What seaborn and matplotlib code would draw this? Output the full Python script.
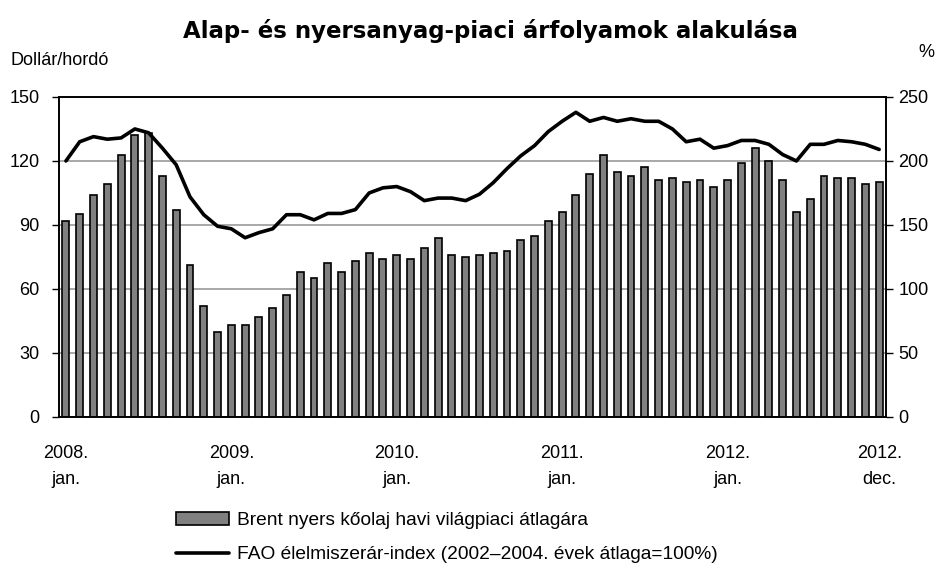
import numpy as np
import pandas as pd
import matplotlib
matplotlib.use("Agg")
import matplotlib.pyplot as plt
import seaborn as sns
from matplotlib.patches import Patch
from matplotlib.lines import Line2D
from matplotlib.ticker import FixedLocator

# Brent havi átlagár (dollár/hordó), 2008 jan. - 2012 dec.
brent = [92, 95, 104, 109, 123, 132, 133, 113, 97, 71, 52, 40,
         43, 43, 47, 51, 57, 68, 65, 72, 68, 73, 77, 74,
         76, 74, 79, 84, 76, 75, 76, 77, 78, 83, 85, 92,
         96, 104, 114, 123, 115, 113, 117, 111, 112, 110, 111, 108,
         111, 119, 126, 120, 111, 96, 102, 113, 112, 112, 109, 110]

# FAO élelmiszerár-index (%)
fao = [200, 215, 219, 217, 218, 225, 222, 210, 197, 172, 158, 149,
       147, 140, 144, 147, 158, 158, 154, 159, 159, 162, 175, 179,
       180, 176, 169, 171, 171, 169, 174, 183, 194, 204, 212, 223,
       231, 238, 231, 234, 231, 233, 231, 231, 225, 215, 217, 210,
       212, 216, 216, 213, 205, 200, 213, 213, 216, 215, 213, 209]

tick_pos = [0, 12, 24, 36, 48, 59]
tick_labels = ["2008.\njan.", "2009.\njan.", "2010.\njan.", "2011.\njan.", "2012.\njan.", "2012.\ndec."]

bar_label = "Brent nyers kőolaj havi világpiaci átlagára"
line_label = "FAO élelmiszerár-index (2002–2004. évek átlaga=100%)"

df = pd.DataFrame({"month": np.arange(len(brent)), "brent": brent, "fao": fao})

sns.set_theme(style="white")
plt.rcParams['font.family'] = ['Liberation Sans', 'DejaVu Sans']
plt.rcParams.update({"text.color": "black", "axes.labelcolor": "black",
                     "xtick.color": "black", "ytick.color": "black"})
FS = 13

fig = plt.figure(figsize=(9.4, 5.67), dpi=100)
ax = fig.add_axes([0.0628, 0.2646, 0.8798, 0.5644])

sns.barplot(data=df, x="month", y="brent", color="#808080", saturation=1,
            edgecolor="black", linewidth=1.2, width=0.5, ax=ax, zorder=2)
ax.set_ylim(0, 150)
ax.set_yticks(range(0, 151, 30))
ax.yaxis.grid(True, color="#999999", linewidth=1.2, zorder=0)
ax.set_axisbelow(True)
ax.set_xlim(-0.5, len(brent) - 0.5)
ax.set_xticks(tick_pos)
ax.set_xticklabels(tick_labels, fontsize=FS, linespacing=1.75)
ax.xaxis.set_minor_locator(FixedLocator(np.arange(-0.5, len(brent), 1)))
ax.tick_params(axis="x", which="major", length=0, pad=20)
ax.tick_params(axis="x", which="minor", direction="inout", length=9, width=0.8, color="#555555")
ax.tick_params(axis="y", which="major", direction="out", length=5, width=1, labelsize=FS, pad=9)
ax.set_xlabel("")
ax.set_ylabel("")
for s in ax.spines.values():
    s.set_color("black")
    s.set_linewidth(1.2)

ax2 = ax.twinx()
sns.lineplot(data=df, x="month", y="fao", color="black", linewidth=2.6, ax=ax2, zorder=3)
ax2.set_ylim(0, 250)
ax2.set_yticks(range(0, 251, 50))
ax2.tick_params(axis="y", direction="out", length=5, width=1, labelsize=FS, pad=4)
ax2.set_ylabel("")
ax2.set_xlabel("")
ax2.set_xlim(-0.5, len(brent) - 0.5)
for s in ax2.spines.values():
    s.set_color("black")
    s.set_linewidth(1.2)

fig.text(0.522, 0.946, "Alap- és nyersanyag-piaci árfolyamok alakulása",
         ha="center", va="center", fontsize=16.5, fontweight="bold",
         family=["DejaVu Sans"], color="black")
fig.text(0.011, 0.893, "Dollár/hordó", ha="left", va="center", fontsize=13)
fig.text(0.985, 0.908, "%", ha="center", va="center", fontsize=FS)

handles = [Patch(facecolor="#808080", edgecolor="black", linewidth=1.2),
           Line2D([0], [0], color="black", linewidth=2.6)]
fig.legend(handles, [bar_label, line_label], loc="upper left",
           bbox_to_anchor=(0.187, 0.097), frameon=False, fontsize=13.8,
           handlelength=2.8, handleheight=0.64, handletextpad=0.42,
           labelspacing=0.9, borderaxespad=0, borderpad=0)

fig.savefig("out.png", dpi=100)
